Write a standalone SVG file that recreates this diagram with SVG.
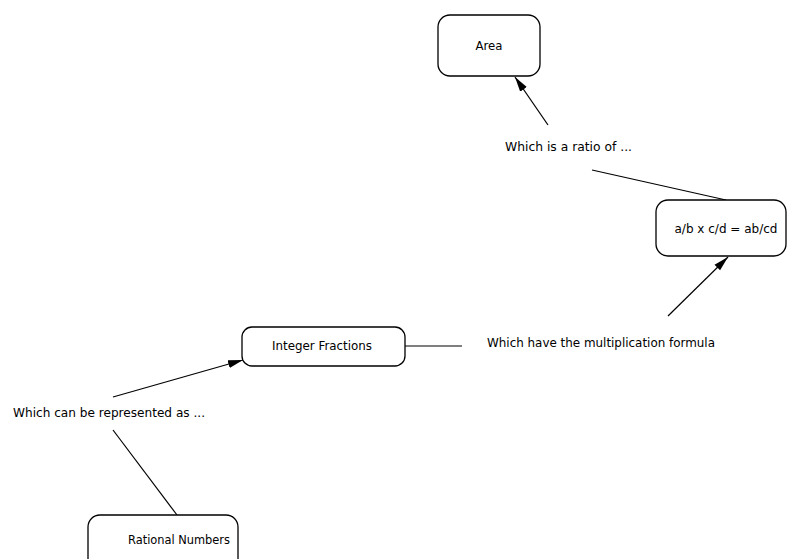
<svg xmlns="http://www.w3.org/2000/svg" width="788" height="559" viewBox="0 0 788 559">
<style>
.node{fill:#fff;stroke:#000;stroke-width:1.3}
.lbl{font-family:Tahoma,"DejaVu Sans","Liberation Sans",sans-serif;font-size:12px;fill:#000}
.c{text-anchor:middle}
.edge{stroke:#000;stroke-width:1.2;fill:none}
</style>
<defs>
<marker id="ah" markerUnits="userSpaceOnUse" markerWidth="16" markerHeight="10" viewBox="0 0 16 10" refX="15" refY="5" orient="auto">
<path d="M0,1 L15,5 L0,9 Z" fill="#000"/>
</marker>
</defs>
<rect width="788" height="559" fill="#fff"/>
<g id="connectors">
<line class="edge" x1="177" y1="515" x2="113" y2="430"/>
<line class="edge" x1="113" y1="397" x2="243" y2="360" marker-end="url(#ah)"/>
<line class="edge" x1="405" y1="346" x2="462" y2="346"/>
<line class="edge" x1="668" y1="316" x2="728" y2="257" marker-end="url(#ah)"/>
<line class="edge" x1="592" y1="170" x2="726" y2="200"/>
<line class="edge" x1="548" y1="125" x2="515" y2="77" marker-end="url(#ah)"/>
</g>
<g id="area">
<rect class="node" x="438" y="15" width="102" height="61" rx="12"/>
<text class="lbl c" x="489" y="50" textLength="27" lengthAdjust="spacingAndGlyphs">Area</text>
</g>
<g id="formula">
<rect class="node" x="656" y="200" width="130" height="56" rx="12"/>
<text class="lbl c" x="726" y="233" textLength="103" lengthAdjust="spacingAndGlyphs">a/b x c/d = ab/cd</text>
</g>
<g id="integer-fractions">
<rect class="node" x="242" y="327" width="163" height="39" rx="10"/>
<text class="lbl c" x="322" y="350" textLength="100" lengthAdjust="spacingAndGlyphs">Integer Fractions</text>
</g>
<g id="rational-numbers">
<rect class="node" x="88" y="515" width="150" height="60" rx="12"/>
<text class="lbl c" x="179" y="544" textLength="102" lengthAdjust="spacingAndGlyphs">Rational Numbers</text>
</g>
<g id="label-represented">
<text class="lbl" x="13" y="417" textLength="192" lengthAdjust="spacingAndGlyphs">Which can be represented as ...</text>
</g>
<g id="label-multiplication">
<text class="lbl" x="487" y="347" textLength="228" lengthAdjust="spacingAndGlyphs">Which have the multiplication formula</text>
</g>
<g id="label-ratio">
<text class="lbl" x="505" y="151" textLength="127" lengthAdjust="spacingAndGlyphs">Which is a ratio of ...</text>
</g>
</svg>
